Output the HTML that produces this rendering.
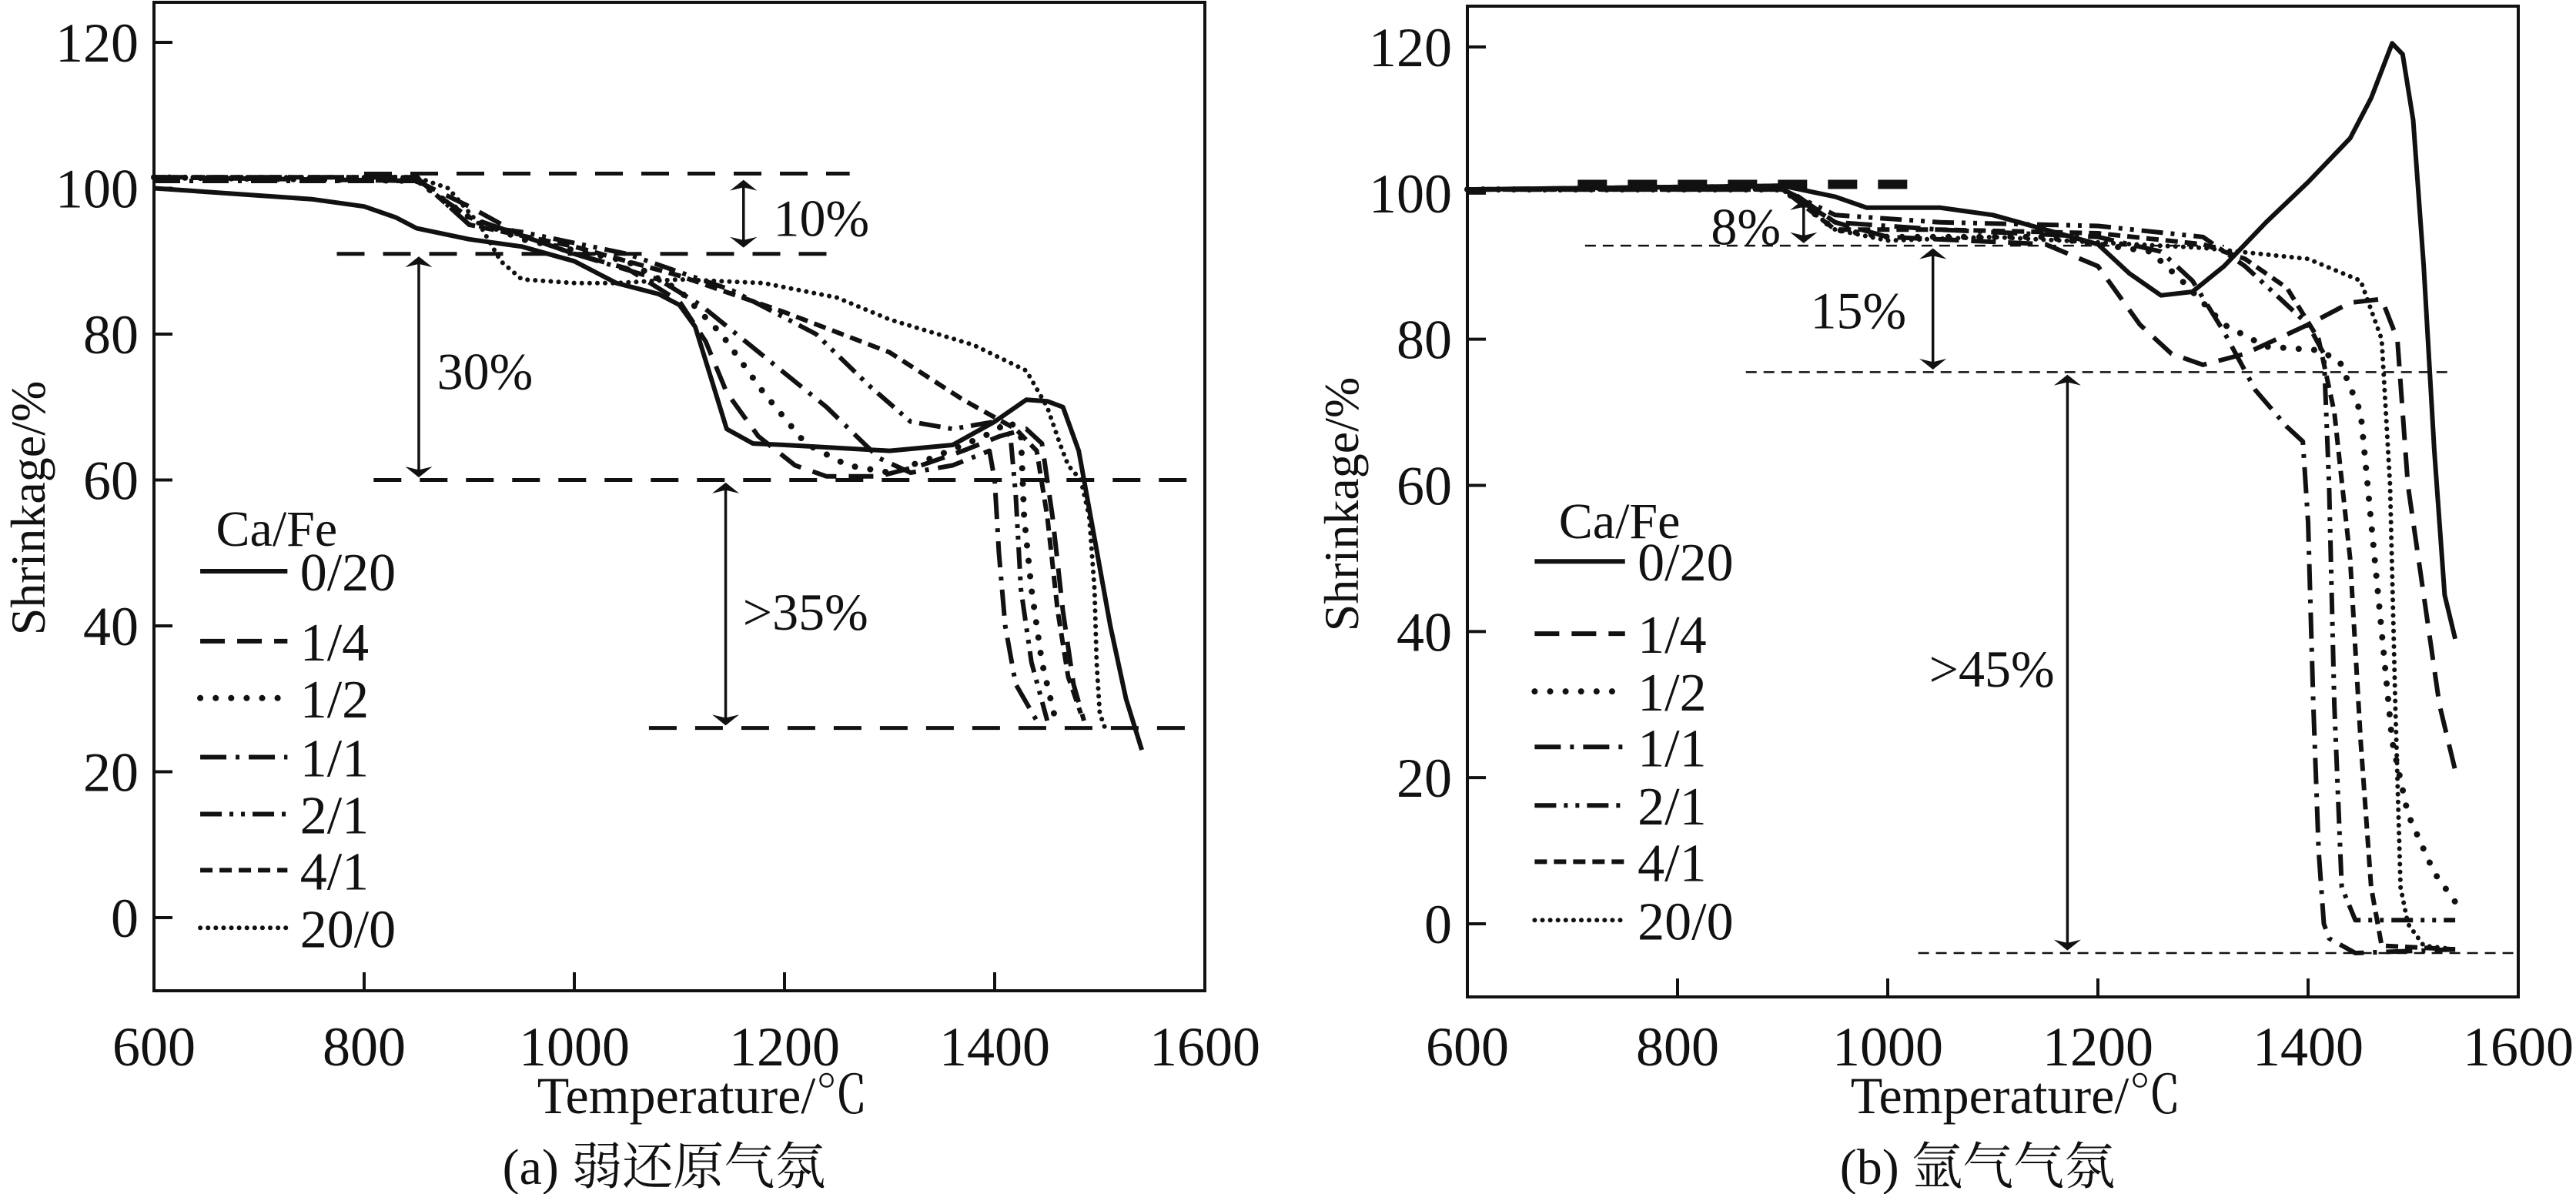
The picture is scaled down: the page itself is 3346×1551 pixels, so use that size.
<!DOCTYPE html>
<html><head><meta charset="utf-8">
<style>
html,body{margin:0;padding:0;background:#fff;}
svg{display:block;}
text{font-family:"Liberation Serif","Noto Serif CJK SC",serif;fill:#111;}
</style></head>
<body>
<svg id="fig" width="3346" height="1551" viewBox="0 0 3346 1551" xmlns="http://www.w3.org/2000/svg">
<defs>
<marker id="ah" viewBox="0 0 10 10" refX="9" refY="5" markerWidth="14" markerHeight="44" orient="auto-start-reverse" markerUnits="userSpaceOnUse" preserveAspectRatio="none"><path d="M0,1 L10,5 L0,9 L3,5 Z" fill="#111"/></marker>
</defs>
</svg>
<script>
// ---------- shared data ----------
const seriesNames = ["0/20","1/4","1/2","1/1","2/1","4/1","20/0"];
const xTicks = [600,800,1000,1200,1400,1600];
const yTicks = [0,20,40,60,80,100,120];

// ---------- chart (a) data: [temperature, shrinkage] ----------
const a_0_20 = [[600,100],[650,99.5],[700,99],[750,98.5],[800,97.5],[830,96],[850,94.5],[900,93],[950,92],[1000,90],[1020,88.5],[1040,87],[1080,85.5],[1100,84],[1115,81],[1130,74],[1145,67],[1170,65],[1200,64.8],[1300,64],[1360,64.8],[1400,68],[1430,71],[1450,70.8],[1465,70],[1480,64],[1495,52],[1510,40],[1525,30],[1540,23]];
const a_1_4 = [[600,101.5],[850,101],[900,97.5],[950,93.5],[1000,91],[1050,89],[1100,84.5],[1125,79],[1145,72],[1175,66],[1210,62],[1240,60.5],[1290,60.5],[1330,62],[1370,64],[1405,66],[1430,67],[1445,65],[1455,55],[1465,42],[1475,32],[1485,27]];
const a_1_2 = [[600,101.5],[850,101],[900,96],[950,93],[1050,90],[1100,86],[1140,80],[1180,72],[1220,65],[1260,62],[1300,61],[1340,63],[1390,66],[1415,68],[1425,66],[1428,55],[1435,45],[1445,35],[1458,27]];
const a_1_1 = [[600,101],[850,101],[900,96],[1000,91],[1080,87.5],[1120,84],[1180,77],[1240,70],[1290,63],[1320,61],[1360,62],[1395,64],[1400,60],[1404,50],[1410,40],[1420,32],[1440,27]];
const a_2_1 = [[600,101.5],[850,101.5],[900,95],[950,94],[1050,91],[1150,86],[1230,80],[1280,73],[1320,68],[1360,67],[1400,68],[1415,66],[1420,58],[1425,45],[1435,35],[1450,27]];
const a_4_1 = [[600,101.5],[850,101.5],[900,95],[1000,92],[1100,88],[1200,83],[1300,77.5],[1370,71],[1420,67],[1440,64],[1450,55],[1460,42],[1470,33],[1482,28]];
const a_20_0 = [[600,101.5],[850,101.5],[880,100],[910,95],[930,90],[950,87.5],[1000,87],[1040,87],[1100,87.5],[1180,87],[1250,85],[1300,82],[1380,78.5],[1430,75],[1450,70],[1462,65],[1470,62],[1482,60],[1490,55],[1495,45],[1497,35],[1500,28],[1505,26]];

// ---------- chart (b) data ----------
const b_0_20 = [[600,100.5],[900,101],[950,99.5],[980,98],[1050,98],[1100,97],[1150,95],[1200,93],[1230,89],[1260,86],[1290,86.5],[1320,90],[1360,96],[1400,101.5],[1440,107.5],[1460,113],[1480,120.5],[1490,119],[1500,110],[1510,90],[1520,65],[1530,45],[1540,39]];
const b_1_4 = [[600,100.5],[900,101],[950,96],[1000,94],[1150,93],[1200,90],[1240,82],[1270,78],[1300,76.5],[1340,78],[1400,82],[1440,85],[1470,85.5],[1485,80],[1495,60],[1510,45],[1525,30],[1540,21]];
const b_1_2 = [[600,100.5],[900,100.5],[950,95],[1000,94],[1150,94],[1250,92],[1280,88],[1320,82],[1360,79],[1410,78.5],[1430,77],[1450,70],[1460,55],[1470,40],[1480,25],[1495,15],[1520,7],[1540,3]];
const b_1_1 = [[600,100.5],[900,100.5],[950,96],[1050,95],[1200,94],[1260,92],[1290,88],[1320,81],[1350,73],[1380,68],[1395,66],[1400,55],[1405,30],[1410,10],[1415,0],[1420,-2],[1445,-4],[1540,-3.5]];
const b_2_1 = [[600,100.5],[900,100.5],[950,97],[1050,96],[1200,95.5],[1300,94],[1340,90],[1370,86],[1400,82],[1415,78],[1420,60],[1425,30],[1432,5],[1445,0.5],[1540,0.5]];
const b_4_1 = [[600,100.5],[900,100.5],[950,95],[1050,95],[1200,94.5],[1300,93],[1340,91],[1380,87],[1410,80],[1425,70],[1440,50],[1450,25],[1460,5],[1470,-3],[1540,-3.5]];
const b_20_0 = [[600,100.5],[900,100.5],[950,95],[1000,93.5],[1100,94],[1300,92.5],[1400,91],[1450,88],[1470,80],[1478,60],[1483,30],[1488,5],[1495,0],[1510,-3],[1540,-3.5]];

// ---------- annotations (data units) ----------
const a_refLines = [[102,800,1262],[91,774,1251],[60,809,1600],[26,1071,1590]];
const a_arrows = [[1161,101,92],[852,90.5,60.5],[1144,59.5,26.5]];
const a_arrowLabels = [["10%",1235,96],["30%",915,75],[">35%",1220,42]];
const b_refLines = [[92.8,712,1320],[75.5,865,1534],[-4,1029,1600]];
const b_arrows = [[920,99,93.3],[1043,92.3,76],[1171,75,-3.5]];
const b_arrowLabels = [["8%",865,95.5],["15%",972,84],[">45%",1099,35]];

const svg = document.getElementById('fig');
const NS = 'http://www.w3.org/2000/svg';
function mk(tag, attrs, parent){ const e=document.createElementNS(NS,tag); for(const k in attrs) e.setAttribute(k,attrs[k]); (parent||svg).appendChild(e); return e; }

const styles = [
  {dash:null,w:6,cap:'butt'},
  {dash:'32 16',w:6,cap:'butt'},
  {dash:'0.1 20',w:8,cap:'round'},
  {dash:'34 12 5 12',w:6,cap:'butt'},
  {dash:'28 10 5 10 5 10',w:6,cap:'butt'},
  {dash:'16 9',w:6,cap:'butt'},
  {dash:'0.1 10',w:6,cap:'round'}
];

function chart(cfg){
  const g = mk('g',{});
  
  
  const X = v => cfg.x0 + (v-600)*(cfg.x1-cfg.x0)/1000;
  const Y = v => cfg.y0 - v*(cfg.y0-cfg.y120)/120;
  const fr = mk('rect',{x:cfg.x0,y:cfg.top,width:cfg.x1-cfg.x0,height:cfg.bottom-cfg.top,fill:'none',stroke:'#111','stroke-width':4},g);
  
  
  yTicks.forEach(t=>{
    const l = mk('line',{x1:cfg.x0,x2:cfg.x0+24,y1:Y(t),y2:Y(t),stroke:'#111','stroke-width':4},g);
    
    
    const tx = mk('text',{x:cfg.x0-20,y:Y(t)+25,'font-size':72,'text-anchor':'end'},g);
    tx.textContent=t;
    
    
  });
  xTicks.forEach(t=>{
    const l = mk('line',{x1:X(t),x2:X(t),y1:cfg.bottom,y2:cfg.bottom-24,stroke:'#111','stroke-width':4},g);
    
    
    const tx = mk('text',{x:X(t),y:1384,'font-size':72,'text-anchor':'middle'},g);
    tx.textContent=t;
    
    
  });
  const xt = mk('text',{x:(cfg.x0+cfg.x1)/2+30,y:1446,'font-size':68,'text-anchor':'middle'},g);
  xt.textContent='Temperature/℃';
  
  
  const yt = mk('text',{x:0,y:0,'font-size':64,'text-anchor':'middle',transform:`translate(${cfg.x0-142},${cfg.ytY}) rotate(-90)`},g);
  yt.textContent='Shrinkage/%';
  
  
  const cap = mk('text',{x:(cfg.x0+cfg.x1)/2-20,y:1538,'font-size':66,'text-anchor':'middle'},g);
  cap.textContent=cfg.caption;
  
  
  cfg.refLines.forEach(r=>{
    const l = mk('line',{x1:X(r[1]),x2:X(r[2]),y1:Y(r[0]),y2:Y(r[0]),stroke:'#111','stroke-width':cfg.refW,'stroke-dasharray':cfg.refDash},g);
    
    
  });
  cfg.arrows.forEach(a=>{
    const l = mk('line',{x1:X(a[0]),x2:X(a[0]),y1:Y(a[1]),y2:Y(a[2]),stroke:'#111','stroke-width':3.5,'marker-start':'url(#ah)','marker-end':'url(#ah)'},g);
    
    
  });
  cfg.labels.forEach(a=>{
    const t = mk('text',{x:X(a[1]),y:Y(a[2])+24,'font-size':68,'text-anchor':'middle'},g);
    t.textContent=a[0];
    
    
  });
  if(cfg.thick){
    const l = mk('line',{x1:X(cfg.thick[1]),x2:X(cfg.thick[2]),y1:Y(cfg.thick[0]),y2:Y(cfg.thick[0]),stroke:'#111','stroke-width':12,'stroke-dasharray':'38 27'},g);
    
    
  }
  cfg.series.forEach((s,i)=>{
    const st = styles[i];
    const d = s.map((p,j)=>(j?'L':'M')+X(p[0]).toFixed(1)+','+Y(p[1]).toFixed(1)).join(' ');
    const p = mk('path',{d:d,fill:'none',stroke:'#111','stroke-width':st.w,'stroke-linecap':st.cap,'stroke-linejoin':'round'},g);
    if(st.dash) p.setAttribute('stroke-dasharray',st.dash);
    
    
  });
  const lg = mk('g',{},g);
  
  
  const lt = mk('text',{x:X(cfg.leg.title[0]),y:Y(cfg.leg.title[1])+24,'font-size':66},lg);
  lt.textContent='Ca/Fe';
  
  
  cfg.leg.rows.forEach((rv,i)=>{
    const st=styles[i];
    const l = mk('line',{x1:X(cfg.leg.line[0]),x2:X(cfg.leg.line[1]),y1:Y(rv),y2:Y(rv),stroke:'#111','stroke-width':st.w,'stroke-linecap':st.cap},lg);
    if(st.dash) l.setAttribute('stroke-dasharray',st.dash);
    
    
    const t = mk('text',{x:X(cfg.leg.text),y:Y(rv)+25,'font-size':70},lg);
    t.textContent=seriesNames[i];
    
    
  });
}

chart({name:'chart-a-weak-reducing',x0:200,x1:1565,top:3,bottom:1287,y0:1192,y120:55,ytY:660,caption:'(a) 弱还原气氛',
  refLines:a_refLines,refW:5,refDash:'36 24',arrows:a_arrows,labels:a_arrowLabels,
  series:[a_0_20,a_1_4,a_1_2,a_1_1,a_2_1,a_4_1,a_20_0],
  leg:{title:[659,53.5],line:[644,727],text:[739],rows:[47.5,37.9,30.1,22,14.2,6.5,-1.4]}});
chart({name:'chart-b-argon',x0:1906,x1:3271,top:8,bottom:1295,y0:1200,y120:61,ytY:655,caption:'(b) 氩气气氛',
  refLines:b_refLines,refW:2.5,refDash:'14 9',arrows:b_arrows,labels:b_arrowLabels,thick:[101.2,705,1025],
  series:[b_0_20,b_1_4,b_1_2,b_1_1,b_2_1,b_4_1,b_20_0],
  leg:{title:[687,55.3],line:[664,750],text:[762],rows:[49.6,39.7,31.8,24.2,16.2,8.5,0.5]}});
</script>
</body></html>
